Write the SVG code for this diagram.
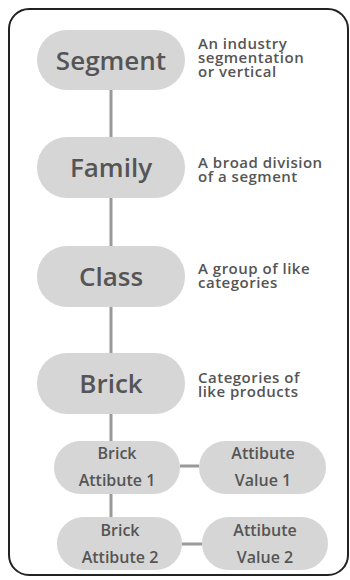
<svg xmlns="http://www.w3.org/2000/svg" width="350" height="580" viewBox="0 0 350 580">
<style>
.pill{fill:#d6d6d6}
.big{font-family:"Open Sans","Liberation Sans",sans-serif;font-weight:600;font-size:26px;fill:#555;text-anchor:middle}
.small{font-family:"Open Sans","Liberation Sans",sans-serif;font-weight:600;font-size:16px;fill:#555;text-anchor:middle}
.desc{font-family:"Open Sans","Liberation Sans",sans-serif;font-weight:600;font-size:15px;letter-spacing:0.5px;fill:#555}
.conn{stroke:#999;stroke-width:3;fill:none}
</style>
<rect width="350" height="580" fill="#fff"/>
<rect x="9" y="9" width="339" height="566" rx="20" ry="20" fill="#fff" stroke="#222" stroke-width="2"/>
<g id="connectors">
<line class="conn" x1="111" y1="90" x2="111" y2="137"/>
<line class="conn" x1="111" y1="198" x2="111" y2="246"/>
<line class="conn" x1="111" y1="307" x2="111" y2="353"/>
<line class="conn" x1="111" y1="414" x2="111" y2="441"/>
<line class="conn" x1="111" y1="494" x2="111" y2="517"/>
<line class="conn" x1="180" y1="466" x2="199" y2="466"/>
<line class="conn" x1="182" y1="544" x2="202" y2="544"/>
</g>
<g id="segment">
<rect class="pill" x="37" y="30" width="148" height="60" rx="30"/>
<text class="big" x="111" y="70">Segment</text>
<text class="desc" x="198" y="49">An industry</text>
<text class="desc" x="198" y="63">segmentation</text>
<text class="desc" x="198" y="77">or vertical</text>
</g>
<g id="family">
<rect class="pill" x="37" y="137" width="148" height="61" rx="30"/>
<text class="big" x="111" y="177">Family</text>
<text class="desc" x="198" y="168">A broad division</text>
<text class="desc" x="198" y="182">of a segment</text>
</g>
<g id="class">
<rect class="pill" x="37" y="246" width="148" height="61" rx="30"/>
<text class="big" x="111" y="286">Class</text>
<text class="desc" x="198" y="274">A group of like</text>
<text class="desc" x="198" y="288">categories</text>
</g>
<g id="brick">
<rect class="pill" x="37" y="353" width="148" height="61" rx="30"/>
<text class="big" x="111" y="393">Brick</text>
<text class="desc" x="198" y="383">Categories of</text>
<text class="desc" x="198" y="397">like products</text>
</g>
<g id="brick-attr-1">
<rect class="pill" x="54" y="441" width="126" height="53" rx="26.5"/>
<text class="small" x="117" y="459">Brick</text>
<text class="small" x="117" y="486">Attibute 1</text>
</g>
<g id="attr-value-1">
<rect class="pill" x="199" y="441" width="127" height="53" rx="26.5"/>
<text class="small" x="263" y="459">Attibute</text>
<text class="small" x="263" y="486">Value 1</text>
</g>
<g id="brick-attr-2">
<rect class="pill" x="57" y="517" width="125" height="53" rx="26.5"/>
<text class="small" x="120" y="536">Brick</text>
<text class="small" x="120" y="563">Attibute 2</text>
</g>
<g id="attr-value-2">
<rect class="pill" x="202" y="517" width="126" height="53" rx="26.5"/>
<text class="small" x="265" y="536">Attibute</text>
<text class="small" x="265" y="563">Value 2</text>
</g>
</svg>
